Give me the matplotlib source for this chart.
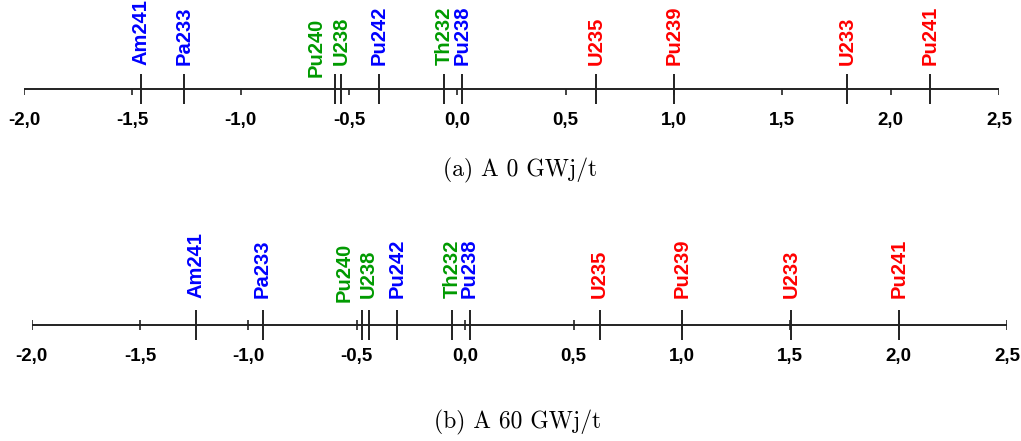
import matplotlib.pyplot as plt

# nuclides sorted along the axis, with their colour group
nuclides = ['Am241', 'Pa233', 'Pu240', 'U238', 'Pu242', 'Th232', 'Pu238',
            'U235', 'Pu239', 'U233', 'Pu241']
groups = ['blue', 'blue', 'green', 'green', 'blue', 'green', 'blue',
          'red', 'red', 'red', 'red']

# positions on the scale at 0 and 60 GWj/t
values_0 = [-1.46, -1.26, -0.565, -0.535, -0.36, -0.06, 0.02, 0.64, 1.0, 1.80, 2.18]
values_60 = [-1.24, -0.935, -0.475, -0.445, -0.315, -0.06, 0.02, 0.62, 1.0, 1.505, 2.0]

tick_values = [-2.0, -1.5, -1.0, -0.5, 0.0, 0.5, 1.0, 1.5, 2.0, 2.5]
tick_labels = ['-2,0', '-1,5', '-1,0', '-0,5', '0,0', '0,5', '1,0', '1,5', '2,0', '2,5']
captions = ['(a) A 0 GWj/t', '(b) A 60 GWj/t']

colors = {'blue': '#0000ff', 'green': '#009a00', 'red': '#ff0000'}
W, H = 1021, 441
fig = plt.figure(figsize=(W / 100, H / 100), dpi=100)

# pixel layout of each panel: left end, right end, axis row, caption centre,
# minor tick extent, gap label->axis, gap for a shifted label
panels = [
    dict(values=values_0, x0=24, x1=999, row=89, cap=(520, 170), minor=(0, 6),
         gap=24, dodge_gap=12),
    dict(values=values_60, x0=31.7, x1=1007, row=325, cap=(518, 422), minor=(-5, 5),
         gap=27, dodge_gap=23),
]

for p, caption in zip(panels, captions):
    ax = fig.add_axes([p['x0'] / W, 0, (p['x1'] - p['x0']) / W, 1])
    ax.set_xlim(tick_values[0], tick_values[-1])
    ax.set_ylim(H - p['row'], -p['row'])  # y in pixels, downwards, 0 = axis line
    ax.axis('off')
    ax.patch.set_alpha(0)

    ax.plot([tick_values[0], tick_values[-1]], [0, 0], color='#222222', lw=1.4,
            solid_capstyle='butt')
    ax.vlines(tick_values, p['minor'][0], p['minor'][1], color='#222222', lw=1.2)
    for t, lab in zip(tick_values, tick_labels):
        ax.text(t, 23, lab, ha='center', va='top', fontsize=13.5,
                fontweight='bold', family='Liberation Sans', color='black')

    vals = p['values']
    ax.vlines(vals, -15, 15, color='#222222', lw=1.4)

    # move a label to the left if it would collide with its right neighbour
    label_x = list(vals)
    label_y = [-p['gap']] * len(vals)
    for i in range(len(vals) - 1):
        if vals[i + 1] - vals[i] < 0.06:
            label_x[i] = vals[i + 1] - 0.115
            label_y[i] = -p['dodge_gap']
    for x, y, name, g in zip(label_x, label_y, nuclides, groups):
        ax.text(x, y, name, rotation=90, ha='center', va='bottom',
                fontsize=14.5, fontweight='bold', family='Liberation Sans',
                color=colors[g])

    fig.text(p['cap'][0] / W, 1 - p['cap'][1] / H, caption,
             ha='center', va='center', fontsize=17, family='cmr10')

fig.savefig('out.png', dpi=100)
